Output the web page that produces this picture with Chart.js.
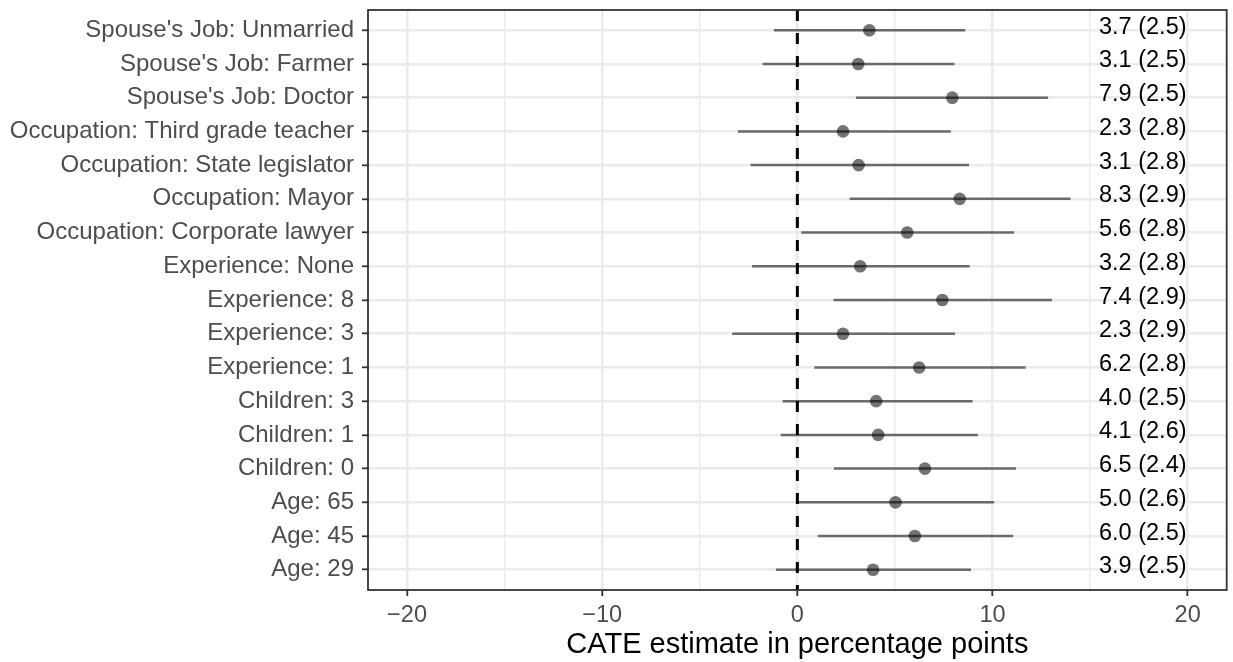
<!DOCTYPE html>
<html><head><meta charset="utf-8">
<script src="https://cdn.jsdelivr.net/npm/chart.js@4.4.1/dist/chart.umd.min.js"></script>
<style>html,body{margin:0;padding:0;background:#fff}#wrap{width:1233px;height:662px}</style>
</head><body><div id="wrap"><canvas id="c" width="1233" height="662"></canvas></div>
<script>
const categories = [
  "Spouse's Job: Unmarried", "Spouse's Job: Farmer", "Spouse's Job: Doctor",
  "Occupation: Third grade teacher", "Occupation: State legislator", "Occupation: Mayor",
  "Occupation: Corporate lawyer", "Experience: None", "Experience: 8", "Experience: 3",
  "Experience: 1", "Children: 3", "Children: 1", "Children: 0", "Age: 65", "Age: 45", "Age: 29"
];
const estimates = [3.69, 3.12, 7.94, 2.34, 3.14, 8.32, 5.63, 3.22, 7.43, 2.34, 6.24, 4.04, 4.14, 6.54, 5.03, 6.02, 3.88];
const stdErrors = [2.5, 2.5, 2.5, 2.8, 2.8, 2.9, 2.8, 2.8, 2.9, 2.9, 2.8, 2.5, 2.6, 2.4, 2.6, 2.5, 2.5];
const ciLow  = [-1.2, -1.78, 3.0, -3.05, -2.4, 2.68, 0.2, -2.32, 1.85, -3.34, 0.87, -0.75, -0.85, 1.87, 0.03, 1.05, -1.1];
const ciHigh = [8.6, 8.05, 12.85, 7.86, 8.8, 14.0, 11.1, 8.83, 13.05, 8.08, 11.7, 8.98, 9.25, 11.2, 10.08, 11.05, 8.9];
const xTicks = [-20, -15, -10, -5, 0, 5, 10, 15, 20];
const xTickLabels = ["\u221220", "", "\u221210", "", "0", "", "10", "", "20"];
const refLineX = 0;

const FONT = "'Liberation Sans', Arial, Helvetica, sans-serif";
const LABEL_X = 17.7;

const pointData = estimates.map((v, i) => ({ x: v, y: i + 1 }));
const rangeSets = categories.map((c, i) => ({
  label: c,
  data: [{ x: ciLow[i], y: i + 1 }, { x: ciHigh[i], y: i + 1 }],
  showLine: true, borderColor: 'rgba(0,0,0,0.55)', borderWidth: 2.5,
  pointRadius: 0, order: 1
}));

const textPlugin = {
  id: 'estLabels',
  afterDatasetsDraw(chart) {
    const { ctx, scales: { x, y } } = chart;
    ctx.save();
    ctx.font = "23.5px " + FONT;
    ctx.fillStyle = '#000';
    ctx.textAlign = 'center';
    ctx.textBaseline = 'alphabetic';
    categories.forEach((c, i) => {
      const txt = estimates[i].toFixed(1) + ' (' + stdErrors[i].toFixed(1) + ')';
      ctx.fillText(txt, x.getPixelForValue(LABEL_X), y.getPixelForValue(i + 1) + 3.5);
    });
    ctx.restore();
  }
};
const borderPlugin = {
  id: 'panelBorder',
  afterDraw(chart) {
    const { ctx, chartArea: a } = chart;
    ctx.save();
    ctx.strokeStyle = '#333';
    ctx.lineWidth = 1.8;
    ctx.strokeRect(a.left, a.top, a.right - a.left, a.bottom - a.top);
    ctx.restore();
  }
};

new Chart(document.getElementById('c'), {
  type: 'scatter',
  data: {
    datasets: [
      { label: 'estimate', data: pointData, backgroundColor: 'rgba(0,0,0,0.55)', borderWidth: 0, pointRadius: 6.3, order: 0 },
      ...rangeSets,
      { label: 'zero', data: [{ x: refLineX, y: 0.4 }, { x: refLineX, y: 17.6 }], showLine: true,
        borderColor: '#000', borderWidth: 3, borderDash: [11, 12], pointRadius: 0, order: 2 }
    ]
  },
  options: {
    responsive: false, animation: false, devicePixelRatio: 1,
    layout: { padding: { top: 10, right: 4, left: 0, bottom: 0 } },
    plugins: { legend: { display: false }, tooltip: { enabled: false } },
    scales: {
      x: {
        type: 'linear', min: -22, max: 22,
        afterBuildTicks: s => { s.ticks = xTicks.map(v => ({ value: v })); },
        afterFit: s => { s.height = 72; s.paddingLeft = 0; s.paddingRight = 0; },
        ticks: { callback: (v, i) => xTickLabels[i], color: '#4d4d4d', font: { family: FONT, size: 23.5 }, padding: 5, maxRotation: 0, autoSkip: false },
        grid: {
          color: '#ebebeb',
          lineWidth: c => (c.tick && c.tick.value % 10 === 0) ? 2.6 : 1.4,
          tickLength: 6,
          tickColor: c => (c.tick && c.tick.value % 10 === 0) ? '#333' : 'rgba(0,0,0,0)',
          tickWidth: 1.8
        },
        border: { display: false },
        title: { display: true, text: 'CATE estimate in percentage points', color: '#000', font: { family: FONT, size: 29 }, padding: { top: 0, bottom: 0 } }
      },
      y: {
        type: 'linear', reverse: true, min: 0.4, max: 17.6,
        afterBuildTicks: s => { s.ticks = categories.map((_, i) => ({ value: i + 1 })); },
        afterFit: s => { s.width = 368; s.paddingTop = 0; s.paddingBottom = 0; },
        ticks: { callback: v => categories[v - 1], color: '#4d4d4d', font: { family: FONT, size: 24 }, padding: 8, autoSkip: false },
        grid: { color: '#ebebeb', lineWidth: 2.6, tickLength: 6, tickColor: '#333', tickWidth: 1.8 },
        border: { display: false }
      }
    }
  },
  plugins: [textPlugin, borderPlugin]
});
</script></body></html>
